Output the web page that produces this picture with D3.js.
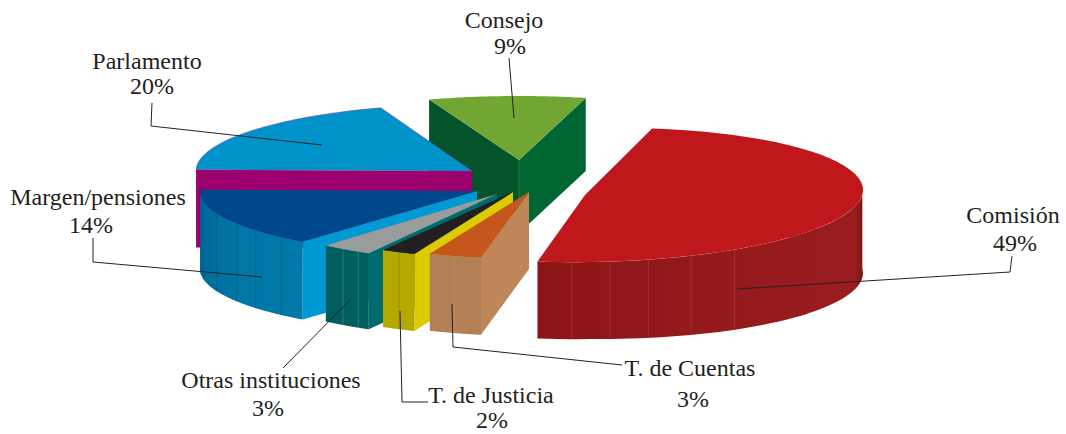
<!DOCTYPE html>
<html><head><meta charset="utf-8"><script src="https://cdn.jsdelivr.net/npm/d3@7"></script>
<style>html,body{margin:0;background:#fff}svg{display:block}text{font-family:"Liberation Serif",serif;font-size:24px;fill:#231f20;text-anchor:middle}</style></head>
<body><svg id="c" width="1066" height="434"><defs></defs></svg>
<script>
const categories=["Comisión","T. de Cuentas","T. de Justicia","Otras instituciones","Margen/pensiones","Parlamento","Consejo"];
const shares=[49,3,2,3,14,20,9];
const percentLabels=["49%","3%","2%","3%","14%","20%","9%"];

const deg=Math.PI/180;
const pie=d3.pie().sort(null).value(d=>d).startAngle(-74.4*deg).endAngle(285.6*deg);
const arcs=pie(shares);

// per-slice placement and styling of the wedge on the page
const place=[
 {cx:595,cy:195,ax:585,rx:268,ry:67,tilt:-5,d:77,bulge:6,lead:-3.3,trail:0.4,top:"#c0171c"},
 {cx:529,cy:192,rx:256,ry:67,tilt:0,d:77,bulge:0,lead:-1.2,trail:0,top:"#c5561c",rad:"#bf865a"},
 {cx:513,cy:192,rx:260,ry:67,tilt:0,d:77,bulge:0,lead:-0.5,trail:0,top:"#231f20",rad:"#dccb00"},
 {cx:497,cy:194,rx:262,ry:68,tilt:0,d:76,bulge:0,lead:-0.7,trail:0,top:"#9a9b9b",rad:"#006a6c"},
 {cx:477,cy:191,rx:277,ry:65,tilt:0,d:78,bulge:0,lead:-1.8,trail:0,top:"#00478c",rad:"#0099d4"},
 {cx:472,cy:171,rx:276,ry:67,tilt:0,d:78,bulge:0,lead:0,trail:-2.5,top:"#0093c9",rad:"#9b006e",outline:"#7a3f9a"},
 {cx:519,cy:160,rx:276,ry:64,tilt:0,d:73,bulge:0,lead:-2.2,trail:-1.6,top:"#72a633"}
];
const rimStops=[
 {a:[102,60,15,-4],c:["#8c1518","#951a1c","#9a1c1e","#7f1718"]},
 {a:[113,102],c:["#b27f56","#b27f56"]},
 {a:[120,113],c:["#b5a900","#b5a900"]},
 {a:[131,120],c:["#005f5e","#005f5e"]},
 {a:[181,150,131],c:["#00689a","#0077a6","#0078a8"]},
 null,null
];
const seams=[[95,86.8,78.5,69,58.6],[107],[116],[126,122],[175,171,160,150,143,135],[],[]];
const seamColors=["#a83a3d","#c9925f","#8f8600","#3a8a88","#005a85","#000","#000"];

const svg=d3.select("#c"),defs=svg.select("defs");
const line=d3.line();
const pt=(p,t,drop=0)=>{const r=t*deg;return [p.cx+p.rx*Math.cos(r),p.cy+p.tilt*Math.cos(r)+p.ry*Math.sin(r)+drop];};
const dropAt=(p,t)=>p.d+p.bulge*Math.max(0,Math.cos(t*deg));
const steps=(a,b,n=48)=>d3.range(n+1).map(i=>a+(b-a)*i/n);
const topPath=(p,a,b)=>line([[p.ax??p.cx,p.cy],...steps(a,b).map(t=>pt(p,t))])+"Z";
const radial=(p,t)=>{const e=pt(p,t);return line([[p.cx,p.cy],e,[e[0],e[1]+dropAt(p,t)],[p.cx,p.cy+p.d]])+"Z";};
const rimPath=(p,a,b)=>{const ts=steps(a,b);return line([...ts.map(t=>pt(p,t)),...ts.slice().reverse().map(t=>pt(p,t,dropAt(p,t)))])+"Z";};

const spans=arcs.map((a,i)=>[a.startAngle/deg+place[i].lead,a.endAngle/deg+place[i].trail]);

function rimGradient(i,p){
 const s=rimStops[i],x=t=>pt(p,t)[0];
 const xs=s.a.map(x),x0=d3.min(xs),x1=d3.max(xs);
 const id="rim"+i;
 const g=defs.append("linearGradient").attr("id",id).attr("gradientUnits","userSpaceOnUse")
  .attr("x1",x0).attr("x2",x1).attr("y1",0).attr("y2",0);
 s.a.map((t,k)=>({o:(x(t)-x0)/(x1-x0||1),c:s.c[k]})).sort((u,v)=>u.o-v.o)
  .forEach(e=>g.append("stop").attr("offset",e.o).attr("stop-color",e.c));
 return `url(#${id})`;
}
function drawSlice(i){
 const p=place[i],[t0,t1]=spans[i],g=svg.append("g");
 if(i===6){ // back wedge: two inner walls meet at the apex
  g.append("path").attr("d",radial(p,t0)).attr("fill","#04532a");
  g.append("path").attr("d",radial(p,t1)).attr("fill","#006633");
  g.append("line").attr("x1",p.cx).attr("x2",p.cx).attr("y1",p.cy).attr("y2",p.cy+p.d).attr("stroke","#2e7d3c").attr("stroke-width",.8);
 } else if(i>0){
  g.append("path").attr("d",radial(p,t0)).attr("fill",p.rad);
 }
 if(rimStops[i]){
  const a=i===0?-4:t0,b=t1;
  g.append("path").attr("d",rimPath(p,a,b)).attr("fill",rimGradient(i,p));
  seams[i].forEach(t=>{const u=pt(p,t),v=pt(p,t,dropAt(p,t));
   g.append("line").attr("x1",u[0]).attr("y1",u[1]).attr("x2",v[0]).attr("y2",v[1]).attr("stroke",seamColors[i]).attr("stroke-width",.7);});
 }
 g.append("path").attr("d",topPath(p,t0,t1)).attr("fill",p.top)
  .attr("stroke",p.outline||"none").attr("stroke-width",p.outline?.5:0);
}
[6,5,4,3,2,1,0].forEach(drawSlice);

// leader lines
const leaders=[
 [[737,289],[1010,272],[1012,256]],
 [[452,304],[453,347],[622,365]],
 [[400,311],[402,402],[428,402]],
 [[350,300],[283,368]],
 [[262,277],[93,262],[93,238]],
 [[322,145],[151,126],[152,103]],
 [[514,118],[509,58]]
];
svg.append("g").selectAll("path").data(leaders).join("path").attr("d",d=>line(d)).attr("fill","none").attr("stroke","#222").attr("stroke-width",1);

// label anchors: name x, name baseline, percent x, percent baseline
const anchors=[[1013,223,1015,251],[690,376,693,407],[491,403,492,428],[271,388,268,416],[98,205,91,233],[147,69,152,94],[504,28,510,54]];
categories.forEach((c,i)=>{const a=anchors[i];
 svg.append("text").attr("x",a[0]).attr("y",a[1]).text(c);
 svg.append("text").attr("x",a[2]).attr("y",a[3]).text(percentLabels[i]);
});
</script></body></html>
